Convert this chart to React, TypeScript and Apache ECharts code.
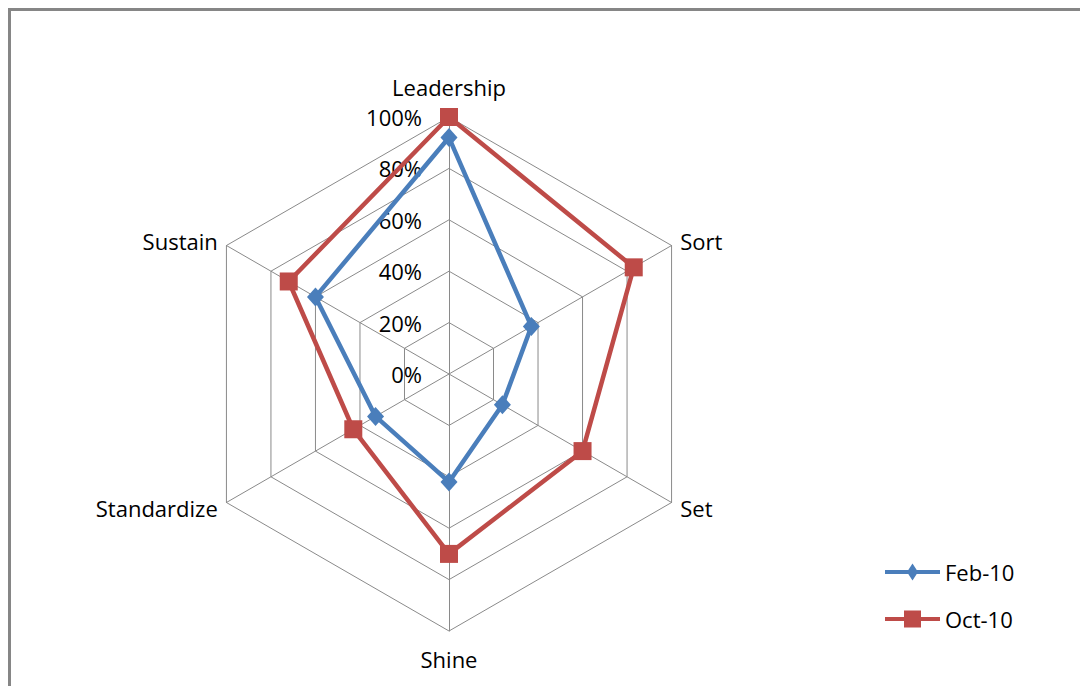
import React, { useEffect, useRef } from "react";
import * as echarts from "echarts";

// Categories listed clockwise starting from the top axis
const categories = ["Leadership", "Sort", "Set", "Shine", "Standardize", "Sustain"];
const feb10 = [0.92, 0.37, 0.24, 0.42, 0.33, 0.6];
const oct10 = [1.0, 0.83, 0.6, 0.7, 0.43, 0.72];
const seriesNames = ["Feb-10", "Oct-10"];
const tickLabels = ["0%", "20%", "40%", "60%", "80%", "100%"];

const BLUE = "#4A7EBB";
const RED = "#BE4B48";
const FONT = "'Open Sans', Lato, sans-serif";
const FONT_SIZE = 22;

// ECharts lays radar indicators out counter-clockwise, so walk the
// categories in reverse (keeping the first one at the top).
const order = [0, ...categories.map((_, i) => i).slice(1).reverse()];
const reorder = (arr: number[]) => order.map((i) => arr[i]);

// Extra room above the top name and below the bottom one
const namePadding: Record<string, number[]> = {
  Leadership: [0, 0, 9, 0],
  Shine: [7, 0, 0, 0],
};

const febIcon =
  "path://M0,6.5 L55,6.5 L55,10.5 L0,10.5 Z M27.5,0 L33,8.5 L27.5,17 L22,8.5 Z";
const octIcon =
  "path://M0,6.5 L55,6.5 L55,10.5 L0,10.5 Z M19,0 L36,0 L36,17 L19,17 Z";

export default function App() {
  const ref = useRef<HTMLDivElement>(null);

  useEffect(() => {
    if (!ref.current) return;
    const chart = echarts.init(ref.current, undefined, { renderer: "svg" });
    chart.setOption({
      animation: false,
      backgroundColor: "#ffffff",
      textStyle: { fontFamily: FONT },
      radar: {
        center: [438, 363],
        radius: 257,
        startAngle: 90,
        splitNumber: 5,
        shape: "polygon",
        nameGap: 10,
        indicator: order.map((i, k) => {
          const name = categories[i];
          return {
            name,
            min: 0,
            max: 1,
            ...(k === 0 ? { axisLabel: { show: true } } : {}),
            ...(namePadding[name] ? { nameTextStyle: { padding: namePadding[name] } } : {}),
          };
        }),
        axisName: { color: "#000", fontFamily: FONT, fontSize: FONT_SIZE },
        axisLine: { show: true, lineStyle: { color: "#8a8a8a", width: 1 } },
        splitLine: { show: true, lineStyle: { color: "#8a8a8a", width: 1 } },
        splitArea: { show: false },
        axisTick: { show: false },
        axisLabel: {
          show: false,
          color: "#000",
          fontFamily: FONT,
          fontSize: FONT_SIZE,
          margin: 27,
          formatter: (_v: number, idx: number) => tickLabels[idx] ?? "",
        },
      },
      legend: {
        orient: "vertical",
        left: 869,
        top: 545,
        itemWidth: 55,
        itemHeight: 17,
        itemGap: 25,
        textStyle: { color: "#000", fontFamily: FONT, fontSize: FONT_SIZE },
        data: [
          { name: seriesNames[0], icon: febIcon, itemStyle: { color: BLUE, borderWidth: 0 } },
          { name: seriesNames[1], icon: octIcon, itemStyle: { color: RED, borderWidth: 0 } },
        ],
      },
      series: [
        {
          type: "radar",
          data: [
            {
              name: seriesNames[0],
              value: reorder(feb10),
              symbol: "diamond",
              symbolSize: [17, 19],
              lineStyle: { color: BLUE, width: 4.5 },
              itemStyle: { color: BLUE },
            },
            {
              name: seriesNames[1],
              value: reorder(oct10),
              symbol: "rect",
              symbolSize: 18,
              lineStyle: { color: RED, width: 4.5 },
              itemStyle: { color: RED },
            },
          ],
        },
      ],
    });
    return () => chart.dispose();
  }, []);

  return (
    <div
      style={{
        boxSizing: "border-box",
        width: 1080,
        height: 678,
        borderTop: "3px solid #868686",
        borderLeft: "3px solid #868686",
        background: "#fff",
      }}
    >
      <div ref={ref} style={{ width: 1077, height: 675 }} />
    </div>
  );
}
